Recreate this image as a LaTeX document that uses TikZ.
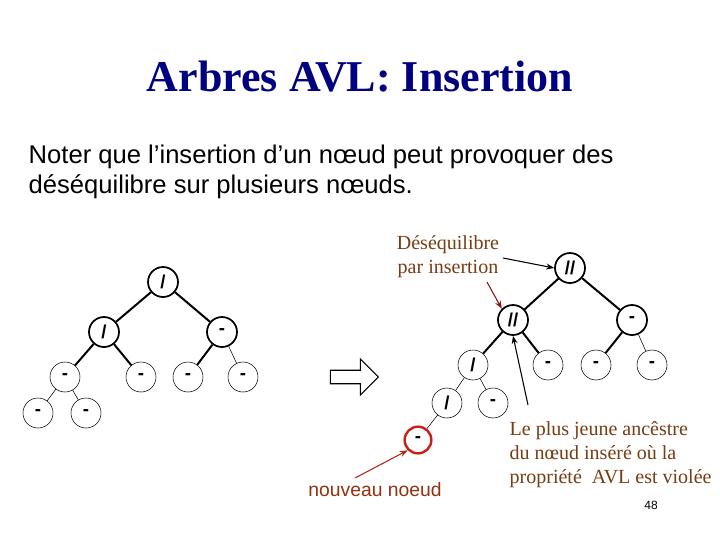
\documentclass[tikz,border=0pt]{standalone}
\usepackage{fontspec}
\setmainfont{Liberation Serif}
\newfontfamily\arialf{Liberation Sans}
\usetikzlibrary{shapes.arrows,arrows.meta}
\definecolor{ttl}{RGB}{0,0,128}
\definecolor{brn}{RGB}{120,60,20}
\definecolor{rd}{RGB}{200,30,20}
\begin{document}
\begin{tikzpicture}[x=0.75pt,y=-0.75pt,
 nd/.style={circle,draw,thin,minimum size=22.5pt,inner sep=0pt,font=\arialf\fontsize{14}{14}\selectfont\bfseries},
 ndb/.style={nd,line width=1.3pt},
 tk/.style={line width=1.5pt},
 tn/.style={thin}]
\useasboundingbox (0,0) rectangle (720,540);
\node[font=\fontsize{33}{38}\selectfont\bfseries,text=ttl] (title) at (360,77) {Arbres AVL: Insertion};
\node[font=\arialf\fontsize{19.2}{22.5}\selectfont,align=left,anchor=north west] (txt) at (24,140) {Noter que l’insertion d’un nœud peut provoquer des\\déséquilibre sur plusieurs nœuds.};
% left tree
\node[ndb] (a) at (163,282) {/};
\node[ndb] (b) at (104,332) {/};
\node[ndb] (c) at (222,332) {-};
\node[nd] (d) at (65,377) {-};
\node[nd] (e) at (141,377) {-};
\node[nd] (f) at (188,377) {-};
\node[nd] (g) at (243,377) {-};
\node[nd] (h) at (38,413) {-};
\node[nd] (i) at (86,413) {-};
\draw[tk] (a)--(b); \draw[tk] (a)--(c);
\draw[tk] (b)--(d); \draw[tk] (b)--(e);
\draw[tk] (c)--(f); \draw[tn] (c)--(g);
\draw[tn] (d)--(h); \draw[tn] (d)--(i);
% block arrow
\node[single arrow,draw,thick,minimum height=36pt,minimum width=27pt,single arrow head extend=4pt,inner sep=2pt] (arr) at (351,377) {};
% right tree
\node[ndb] (A) at (570,268) {//};
\node[ndb] (B) at (513,320) {//};
\node[ndb] (C) at (632,320) {-};
\node[nd] (D) at (473,365) {/};
\node[nd] (E) at (548,365) {-};
\node[nd] (F) at (596,365) {-};
\node[nd] (G) at (652,365) {-};
\node[nd] (H) at (447,403) {/};
\node[nd] (I) at (493,403) {-};
\node[nd,draw=rd,line width=1.8pt,minimum size=20pt] (J) at (418,440) {-};
\draw[tk] (A)--(B); \draw[tk] (A)--(C);
\draw[tk] (B)--(D); \draw[tk] (B)--(E);
\draw[tk] (C)--(F); \draw[tn] (C)--(G);
\draw[tn] (D)--(H); \draw[tn] (D)--(I);
\draw[tn] (H)--(J);
% labels
\node[text=brn,font=\fontsize{15}{18}\selectfont,align=center] (lab1) at (448,257) {Déséquilibre\\par insertion};
\coordinate (s1) at (503,258);
\draw[-{Stealth[length=6pt]},thick] (s1) -- (A.west);
\coordinate (r1) at (487,282);
\draw[-{Stealth[length=6pt]},thick,draw=rd!70!black] (r1) -- (B.north west);
\node[text=brn,font=\fontsize{15}{18}\selectfont,align=left,anchor=west] (lab2) at (505,455) {Le plus jeune ancêstre\\du nœud inséré où la\\propriété~ AVL est violée};
\coordinate (s2) at (528,405);
\draw[-{Stealth[length=6pt]},thick] (s2) -- (B.south);
\node[text=brn!80!red,font=\arialf\fontsize{14.5}{16}\selectfont] (lab3) at (375,490) {nouveau noeud};
\coordinate (s3) at (355,478);
\draw[-{Stealth[length=6pt]},thick,draw=rd!80!brn] (s3) -- (J.south west);
\node[font=\arialf\fontsize{9}{10}\selectfont] (pg) at (651,505) {48};
\end{tikzpicture}
\end{document}
